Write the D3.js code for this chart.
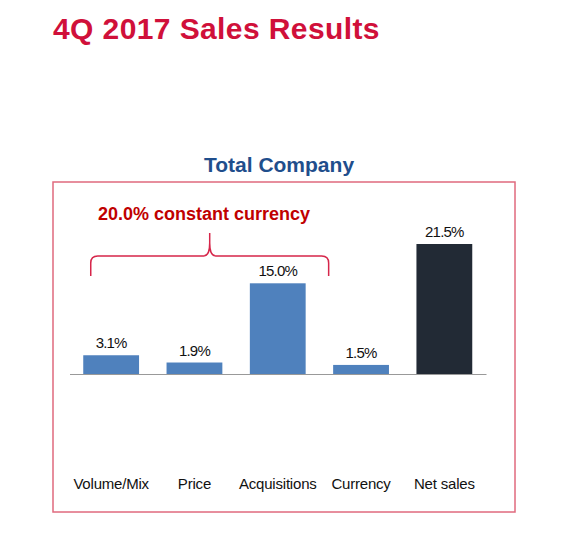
<!DOCTYPE html>
<html><head><meta charset="utf-8">
<script src="https://cdn.jsdelivr.net/npm/d3@7"></script>
<style>body{margin:0;background:#fff}svg{display:block;font-family:"Liberation Sans",Arial,sans-serif}</style>
</head><body><svg id="c" width="580" height="545"></svg>
<script>
const categories = ["Volume/Mix", "Price", "Acquisitions", "Currency", "Net sales"];
const values = [3.1, 1.9, 15.0, 1.5, 21.5];
const valueLabels = ["3.1%", "1.9%", "15.0%", "1.5%", "21.5%"];
const barColors = ["#4F81BD", "#4F81BD", "#4F81BD", "#4F81BD", "#222A35"];
const bracketSpan = ["Volume/Mix", "Acquisitions"];
const bracketLabel = "20.0% constant currency";

const svg = d3.select("#c");
svg.append("text").attr("x", 53).attr("y", 39).attr("font-size", 30).attr("font-weight", "bold")
  .attr("letter-spacing", 0.4).attr("fill", "#D0103A").text("4Q 2017 Sales Results");
svg.append("text").attr("x", 279).attr("y", 172).attr("text-anchor", "middle").attr("font-size", 21)
  .attr("font-weight", "bold").attr("fill", "#1F4E8C").text("Total Company");
svg.append("rect").attr("x", 53).attr("y", 182).attr("width", 462).attr("height", 330)
  .attr("fill", "none").attr("stroke", "#E06A7E").attr("stroke-width", 1.5);

const x = d3.scaleBand().domain(categories).range([69.5, 486]).paddingInner(0.33).paddingOuter(0.165);
const y = d3.scaleLinear().domain([0, 21.5]).range([374, 244]);

const g = svg.append("g");
g.selectAll("rect.bar").data(values).join("rect").attr("class", "bar")
  .attr("x", (d, i) => x(categories[i])).attr("width", x.bandwidth())
  .attr("y", d => y(d)).attr("height", d => y(0) - y(d)).attr("fill", (d, i) => barColors[i]);
g.selectAll("text.val").data(values).join("text").attr("class", "val")
  .attr("x", (d, i) => x(categories[i]) + x.bandwidth() / 2).attr("y", d => y(d) - 7)
  .attr("text-anchor", "middle").attr("font-size", 15).attr("letter-spacing", -0.8).attr("fill", "#111")
  .text((d, i) => valueLabels[i]);

const axis = d3.axisBottom(x).tickSize(0).tickPadding(0);
const ax = svg.append("g").attr("transform", `translate(0,${y(0)})`).call(axis);
ax.select(".domain").attr("stroke", "#999").attr("stroke-width", 1.2);
ax.selectAll(".tick text").attr("y", 115).attr("dy", 0).attr("font-size", 15).attr("letter-spacing", -0.2)
  .attr("fill", "#111").attr("font-family", '"Liberation Sans",Arial,sans-serif');

// bracket
const bx0 = x(bracketSpan[0]) + 7.5, bx1 = x(bracketSpan[1]) + x.bandwidth() + 23;
const bm = (bx0 + bx1) / 2 + 0;
const by = 256, bb = 276, bt = 233, r = 7;
const p = d3.path();
p.moveTo(bx0, bb); p.lineTo(bx0, by + r); p.quadraticCurveTo(bx0, by, bx0 + r, by);
p.lineTo(bm - 6, by); p.quadraticCurveTo(bm, by, bm, bt + 10); p.lineTo(bm, bt);
p.moveTo(bm, bt + 10); p.quadraticCurveTo(bm, by, bm + 6, by);
p.lineTo(bx1 - r, by); p.quadraticCurveTo(bx1, by, bx1, by + r); p.lineTo(bx1, bb);
svg.append("path").attr("d", p.toString()).attr("fill", "none").attr("stroke", "#D6264A").attr("stroke-width", 1.5);
svg.append("text").attr("x", 98).attr("y", 220).attr("font-size", 18).attr("font-weight", "bold")
  .attr("fill", "#C00000").text(bracketLabel);
</script></body></html>
